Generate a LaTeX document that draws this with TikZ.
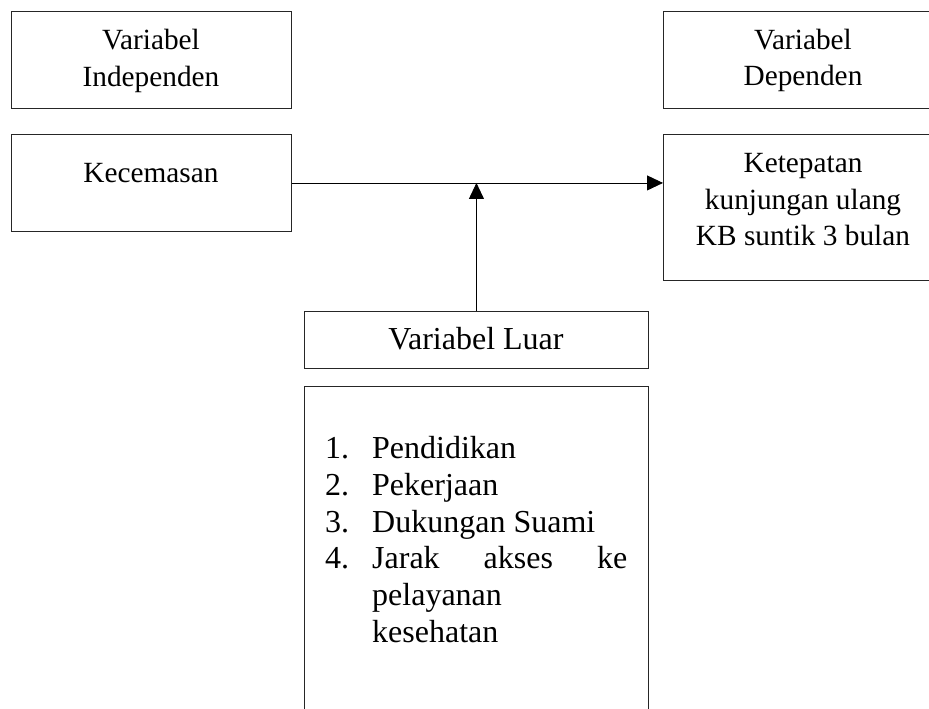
\documentclass[tikz,border=0pt]{standalone}
\usepackage{fontspec}
\setmainfont{Liberation Serif}
\usetikzlibrary{arrows.meta}
\begin{document}
\begin{tikzpicture}[x=1pt,y=-1pt,
  box/.style={draw=black!85,line width=0.9pt,inner sep=0pt,anchor=north west},
  lbl/.style={inner sep=0pt,anchor=base,font=\fontsize{29.3}{36}\selectfont},
  lbig/.style={inner sep=0pt,anchor=base,font=\fontsize{32}{37}\selectfont},
  lbw/.style={inner sep=0pt,anchor=base west,font=\fontsize{32}{37}\selectfont},
  arr/.style={line width=0.9pt,-{Triangle[length=16pt,width=15pt]}}]
\useasboundingbox (0,0) rectangle (929,709);
% boxes
\node[box,minimum width=280pt,minimum height=97pt] (indep) at (11,11) {};
\node[box,minimum width=280pt,minimum height=97pt] (kec) at (11,134) {};
\node[box,minimum width=280pt,minimum height=97pt] (dep) at (663,11) {};
\node[box,minimum width=280pt,minimum height=146pt] (ket) at (663,134) {};
\node[box,minimum width=344pt,minimum height=57pt] (luar) at (304,311) {};
\draw[draw=black!85,line width=0.9pt] (304,720) -- (304,386) -- (648,386) -- (648,720);
% labels
\node[lbl] (t1a) at (151,50) {Variabel};
\node[lbl] (t1b) at (151,87) {Independen};
\node[lbl] (t2) at (151,182) {Kecemasan};
\node[lbl] (t3a) at (803,49) {Variabel};
\node[lbl] (t3b) at (803,85) {Dependen};
\node[lbl] (t4a) at (803,172) {Ketepatan};
\node[lbl] (t4b) at (803,209) {kunjungan ulang};
\node[lbl] (t4c) at (803,245) {KB suntik 3 bulan};
\node[lbig] (t5) at (476,349) {Variabel Luar};
% list
\node[lbw] (n1) at (325,458) {1.};
\node[lbw] (l1) at (372,458) {Pendidikan};
\node[lbw] (n2) at (325,495) {2.};
\node[lbw] (l2) at (372,495) {Pekerjaan};
\node[lbw] (n3) at (325,532) {3.};
\node[lbw] (l3) at (372,532) {Dukungan Suami};
\node[lbw] (n4) at (325,568) {4.};
\node[lbw] (l4) at (372,568) {\makebox[255pt][s]{Jarak akses ke}};
\node[lbw] (l5) at (372,605) {pelayanan};
\node[lbw] (l6) at (372,642) {kesehatan};
% arrows
\draw[arr] (kec.east) -- (kec.east -| ket.west);
\draw[arr] (luar.north) -- (luar.north |- kec.east);
\end{tikzpicture}
\end{document}
